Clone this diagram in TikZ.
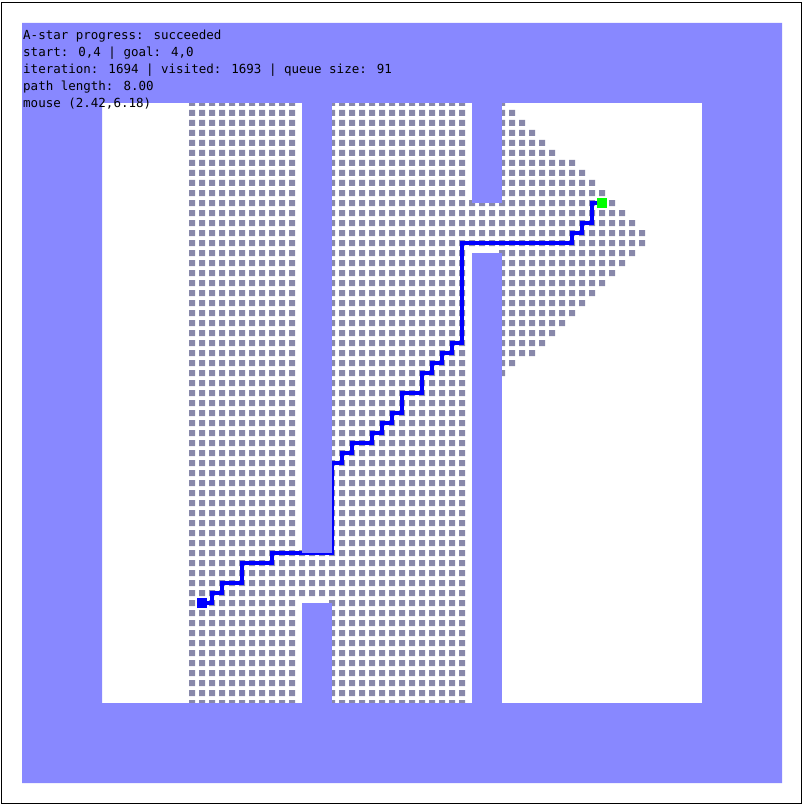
\documentclass[tikz,border=0pt]{standalone}
\usepackage{fontspec}
\newfontfamily\monofont{DejaVu Sans Mono}
\definecolor{wallblue}{RGB}{136,136,255}
\definecolor{visitedgray}{RGB}{136,136,170}
\definecolor{pathblue}{RGB}{0,0,255}
\definecolor{goalgreen}{RGB}{0,255,0}
\tikzset{
  infotext/.style={anchor=base west, inner sep=0pt, font=\monofont\fontsize{12.5}{17}\selectfont, text=black},
  marker/.style={minimum width=10pt, minimum height=10pt, inner sep=0pt, draw=none},
  pathline/.style={draw=pathblue, line width=3.6pt, line join=miter, line cap=butt},
  wall/.style={fill=wallblue},
  cellfill/.style={fill=visitedgray}
}
\begin{document}
\begin{tikzpicture}[x=1pt,y=-1pt]
\useasboundingbox (0,0) rectangle (803,805);
\fill[white] (0,0) rectangle (803,805);
% visited / frontier cells
\fill[cellfill] \foreach \i in {-1,...,9} { \foreach \j in {-10,...,50} { ({199+10*\i},{200+10*\j}) rectangle ++(6,6) } };
\fill[cellfill] \foreach \i in {13,...,26} { \foreach \j in {-10,...,50} { ({199+10*\i},{200+10*\j}) rectangle ++(6,6) } };
\fill[cellfill] \foreach \i in {10,11,12} { \foreach \j in {35,...,39} { ({199+10*\i},{200+10*\j}) rectangle ++(6,6) } };
\fill[cellfill] \foreach \i in {27,28,29} { \foreach \j in {0,...,4} { ({199+10*\i},{200+10*\j}) rectangle ++(6,6) } };
\fill[cellfill] \foreach \j/\m in {-10/30,-9/31,-8/32,-7/33,-6/34,-5/35,-4/37,-3/38,-2/39,-1/40,0/41,1/42,2/43,3/44,4/44,5/43,6/42,7/41,8/40,9/39,10/38,11/37,12/36,13/35,14/34,15/33,16/31,17/30} { \foreach \i in {30,...,\m} { ({199+10*\i},{200+10*\j}) rectangle ++(6,6) } };
% start and goal anchors
\coordinate (s) at (202,603);
\coordinate (g) at (602,203);
% path
\draw[pathline] (s) -- (212,603) -- (212,593) -- (222,593) -- (222,583) -- (242,583) -- (242,563) -- (272,563) -- (272,553) -- (332,553) -- (332,463) -- (342,463) -- (342,453) -- (352,453) -- (352,443) -- (372,443) -- (372,433) -- (382,433) -- (382,423) -- (392,423) -- (392,413) -- (402,413) -- (402,393) -- (422,393) -- (422,373) -- (432,373) -- (432,363) -- (442,363) -- (442,353) -- (452,353) -- (452,343) -- (462,343) -- (462,243) -- (572,243) -- (572,233) -- (582,233) -- (582,223) -- (592,223) -- (592,203) -- (g);
% walls and border
\fill[wall, even odd rule] (22,23) rectangle (782,783) (102,103) rectangle (702,703);
\fill[wall] (302,103) rectangle (332,553);
\fill[wall] (302,603) rectangle (332,703);
\fill[wall] (472,103) rectangle (502,203);
\fill[wall] (472,253) rectangle (502,703);
% markers
\node[marker, fill=pathblue] (start) at (s) {};
\node[marker, fill=goalgreen] (goal) at (g) {};
% outer frame
\draw[black, line width=1pt] (1,2.5) rectangle (801.5,803.5);
% info text
\node[infotext] (t1) at (23,39.5) {A-star progress: succeeded};
\node[infotext] (t2) at (23,56.5) {start: 0,4 | goal: 4,0};
\node[infotext] (t3) at (23,73.5) {iteration: 1694 | visited: 1693 | queue size: 91};
\node[infotext] (t4) at (23,90.5) {path length: 8.00};
\node[infotext] (t5) at (23,107.5) {mouse (2.42,6.18)};
\end{tikzpicture}
\end{document}
